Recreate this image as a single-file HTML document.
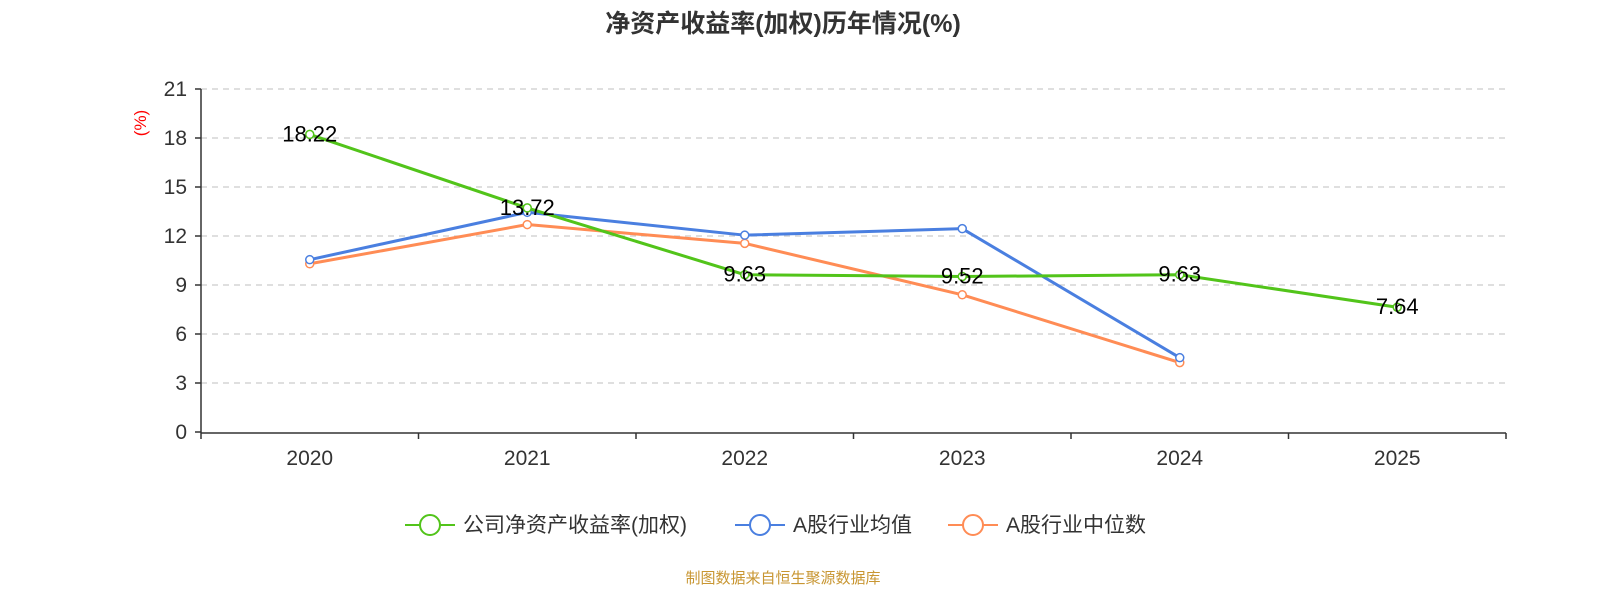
<!DOCTYPE html>
<html><head><meta charset="utf-8"><style>
body{margin:0;background:#fff;font-family:"Liberation Sans","Noto Sans CJK SC",sans-serif;}
svg{display:block}
</style></head><body>
<svg id="c" width="1600" height="600" xmlns="http://www.w3.org/2000/svg">
<text x="783" y="32" text-anchor="middle" font-size="25" font-weight="bold" fill="#333">净资产收益率(加权)历年情况(%)</text>
<text transform="translate(146,123) rotate(-90)" text-anchor="middle" font-size="17" fill="#f00">(%)</text>
<g id="grid"></g><g id="axes"></g><g id="series"></g>
<g id="legend"></g>
<text x="783" y="583" text-anchor="middle" font-size="15" fill="#c89632">制图数据来自恒生聚源数据库</text>
</svg>
<script>
const categories=["2020","2021","2022","2023","2024","2025"];
const companyRoe=[18.22,13.72,9.63,9.52,9.63,7.64];
const industryAvg=[10.55,13.45,12.05,12.45,4.55,null];
const industryMedian=[10.3,12.7,11.55,8.4,4.25,null];
const yTicks=[0,3,6,9,12,15,18,21];
const NS="http://www.w3.org/2000/svg";
const L=201,R=1506,T=89,B=432,YMAX=21;
const bw=(R-L)/categories.length;
const x=i=>L+bw*(i+0.5);
const y=v=>B-(v/YMAX)*(B-T);
function mk(tag,attrs,parent,txt){const e=document.createElementNS(NS,tag);for(const k in attrs)e.setAttribute(k,attrs[k]);if(txt!=null)e.textContent=txt;parent.appendChild(e);return e;}
const grid=document.getElementById('grid'),axes=document.getElementById('axes'),ser=document.getElementById('series'),leg=document.getElementById('legend');
yTicks.forEach(t=>{
 if(t>0){const g=mk('line',{x1:L,x2:R,y1:y(t),y2:y(t),stroke:'#ccc','stroke-dasharray':'6,5','stroke-width':1.3},grid);
 
 }
 mk('line',{x1:L-6,x2:L,y1:y(t),y2:y(t),stroke:'#333','stroke-width':1.5},axes);
 const lb=mk('text',{x:L-14,y:y(t)+7,'text-anchor':'end','font-size':21,fill:'#333'},axes,t);
 
 
});
mk('line',{x1:L,x2:L,y1:T,y2:B+1,stroke:'#333','stroke-width':1.5},axes);
mk('line',{x1:L,x2:R,y1:B+1,y2:B+1,stroke:'#333','stroke-width':1.5},axes);
for(let i=0;i<=categories.length;i++)mk('line',{x1:L+bw*i,x2:L+bw*i,y1:B+1,y2:B+7,stroke:'#333','stroke-width':1.5},axes);
categories.forEach((c,i)=>{const t=mk('text',{x:x(i),y:465,'text-anchor':'middle','font-size':21,fill:'#333'},axes,c);
 
 });
function line(vals,color,name,labels){
 const g=mk('g',{},ser);
 
 
 const pts=vals.map((v,i)=>v==null?null:[x(i),y(v)]).filter(p=>p);
 mk('polyline',{points:pts.map(p=>p.join(',')).join(' '),fill:'none',stroke:color,'stroke-width':3},g);
 vals.forEach((v,i)=>{if(v==null)return;
  const c=mk('circle',{cx:x(i),cy:y(v),r:4,fill:'#fff',stroke:color,'stroke-width':1.5},g);
  
  
  if(labels){const t=mk('text',{x:x(i),y:y(v)+7,'text-anchor':'middle','font-size':22,fill:'#000'},g,v.toFixed(2));
  
  }
 });
}
line(industryMedian,'#ff8c55','industry-median-line',false);
line(industryAvg,'#4a7fe0','industry-average-line',false);
line(companyRoe,'#52c41a','company-roe-line',true);
const items=[["公司净资产收益率(加权)",'#52c41a',405],["A股行业均值",'#4a7fe0',735],["A股行业中位数",'#ff8c55',948]];
items.forEach(([n,c,lx])=>{const g=mk('g',{},leg);
 
 
 mk('line',{x1:lx,x2:lx+50,y1:525,y2:525,stroke:c,'stroke-width':2},g);
 mk('circle',{cx:lx+25,cy:525,r:10,fill:'#fff',stroke:c,'stroke-width':2},g);
 mk('text',{x:lx+58,y:532,'font-size':21,fill:'#333'},g,n);});
</script>
</body></html>
